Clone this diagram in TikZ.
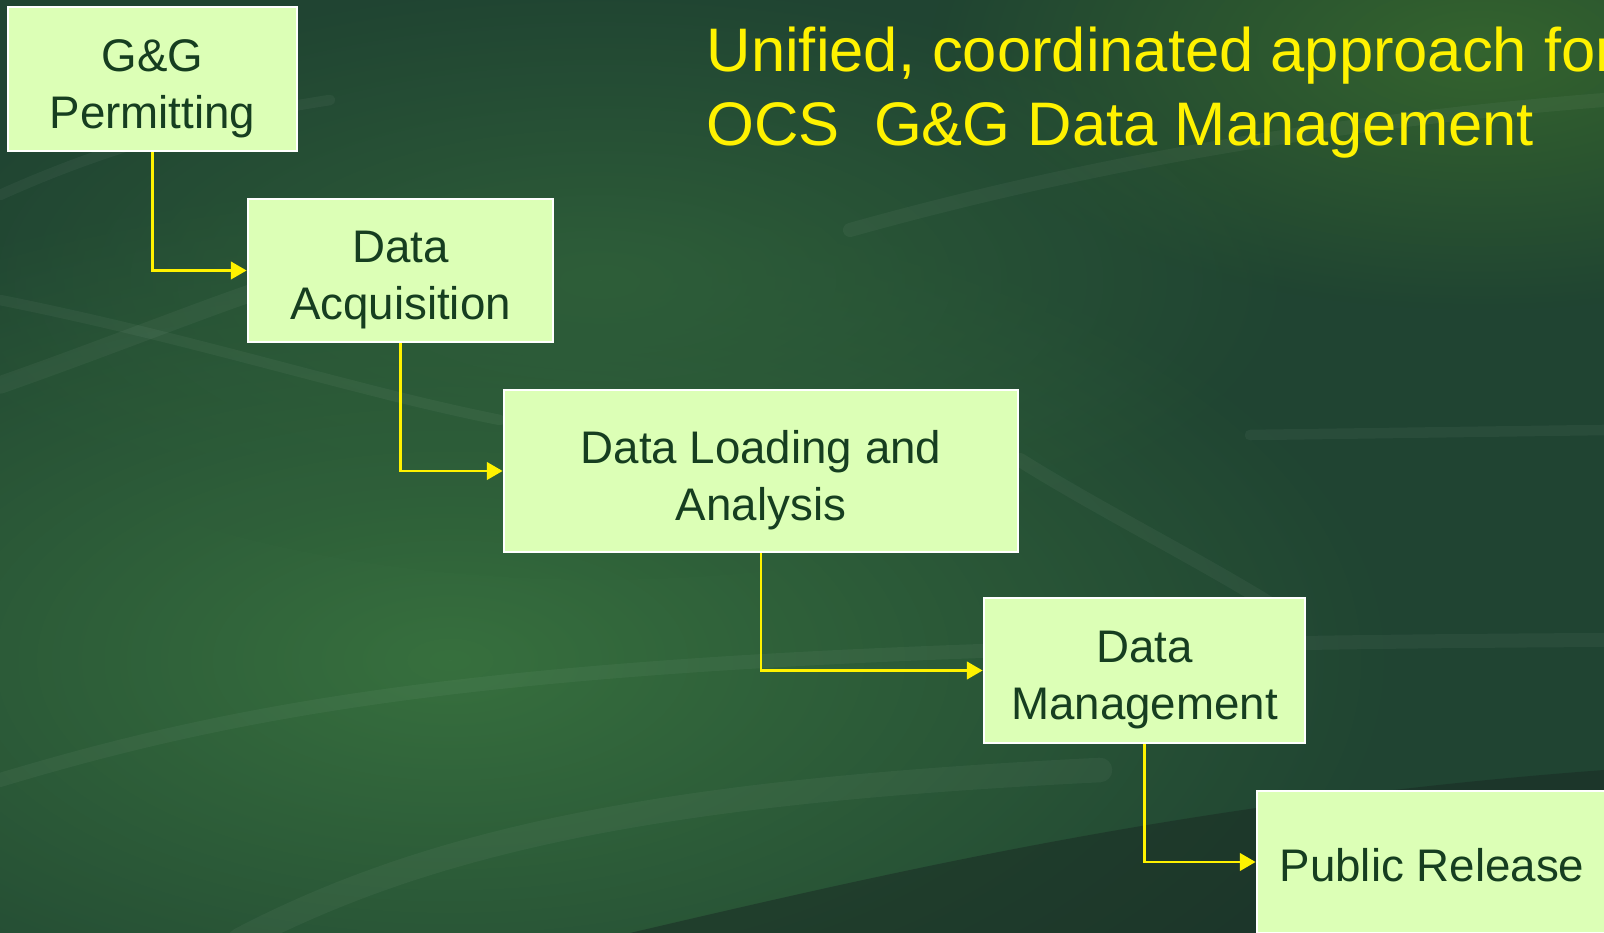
\documentclass[tikz,border=0pt]{standalone}
\usepackage{fontspec}
\setmainfont{Liberation Sans}
\usetikzlibrary{arrows.meta,fadings}
\definecolor{bgbase}{RGB}{32,68,50}
\definecolor{bglight}{RGB}{55,112,62}
\definecolor{bgtop}{RGB}{52,100,46}
\definecolor{bgdark}{RGB}{26,44,36}
\definecolor{boxfill}{RGB}{220,255,182}
\definecolor{boxtext}{RGB}{22,62,32}
\tikzfading[name=glowfade, inner color=transparent!0, outer color=transparent!100]
\newcommand{\glow}[4]% colour, centre, xdim, ydim
{\fill[#1, path fading=glowfade] (#2) ellipse (#3 and #4);
}

\begin{document}
\begin{tikzpicture}[
	stage/.style={draw=white, line width=0.8pt, fill=boxfill, text=boxtext, align=center, inner sep=0pt, text height=28pt, text depth=0pt, font=\fontsize{13}{16.2}\selectfont},
	flow/.style={draw=yellow, line width=0.75pt, -{Triangle[length=4.5pt,width=5pt]}},
	headline/.style={text=yellow, anchor=base west, inner sep=0pt, font=\fontsize{17.5}{21}\selectfont},
	streak/.style={white, opacity=0.045, line width=4pt, line cap=round}
	]
	\useasboundingbox (0,0) rectangle (16.04,-9.33);
	\clip (0,0) rectangle (16.04,-9.33);
	% background
	\fill[bgbase] (0,0) rectangle (16.04,-9.33);
	\glow{bglight}{4.5,-6.6}{9.5}{4.8}
	\glow{bgtop}{14.8,-0.5}{5.5}{2.6}
	\glow{bglight!60!bgbase}{6,-2.8}{7}{3}
	\fill[bgdark, opacity=0.55] (6.3,-9.33) .. controls (9,-8.7) and (12,-8.0) .. (16.04,-7.7) -- (16.04,-9.33) -- cycle;
	\draw[streak] (0,-7.8) .. controls (3,-6.9) and (6,-6.45) .. (16.04,-6.4);
	\draw[streak, line width=7pt] (2.4,-9.4) .. controls (4.5,-8.3) and (7,-7.9) .. (11,-7.7);
	\draw[streak] (10.2,-4.6) .. controls (11,-5.1) and (12,-5.6) .. (12.8,-6.1);
	\draw[streak, line width=3pt] (0,-3.0) .. controls (2,-3.4) and (3.5,-3.9) .. (5,-4.2);
	\draw[streak, line width=5pt] (0,-3.85) .. controls (1,-3.5) and (2,-3.1) .. (2.6,-2.9);
	\draw[streak, line width=3pt] (0,-1.95) .. controls (1,-1.5) and (2,-1.2) .. (3.3,-1.0);
	\draw[streak] (8.5,-2.3) .. controls (11,-1.6) and (13.5,-1.2) .. (16.04,-1.0);
	\draw[streak, line width=3pt] (12.5,-4.35) -- (16.04,-4.3);
	% stages
	\node[stage, minimum width=2.89cm, minimum height=1.44cm] (permit) at (1.525,-0.79) {G\&G\\Permitting};
	\node[stage, minimum width=3.05cm, minimum height=1.43cm] (acquire) at (4.005,-2.705) {Data\\Acquisition};
	\node[stage, minimum width=5.14cm, minimum height=1.62cm] (load) at (7.61,-4.71) {Data Loading and\\Analysis};
	\node[stage, minimum width=3.21cm, minimum height=1.45cm] (manage) at (11.445,-6.705) {Data\\Management};
	\node[stage, text height=11.2pt, minimum width=3.5cm, minimum height=1.42cm] (release) at (14.32,-8.62) {Public Release};
	% title
	\node[headline] (title1) at (7.06,-0.72) {Unified, coordinated approach for};
	\node[headline] (title2) at (7.06,-1.46) {OCS\ \ G\&G Data Management};
	% arrows
	\draw[flow] (permit.south) |- (acquire.west);
	\draw[flow] (acquire.south) |- (load.west);
	\draw[flow] (load.south) |- (manage.west);
	\draw[flow] (manage.south) |- (release.west);
\end{tikzpicture}
\end{document}
